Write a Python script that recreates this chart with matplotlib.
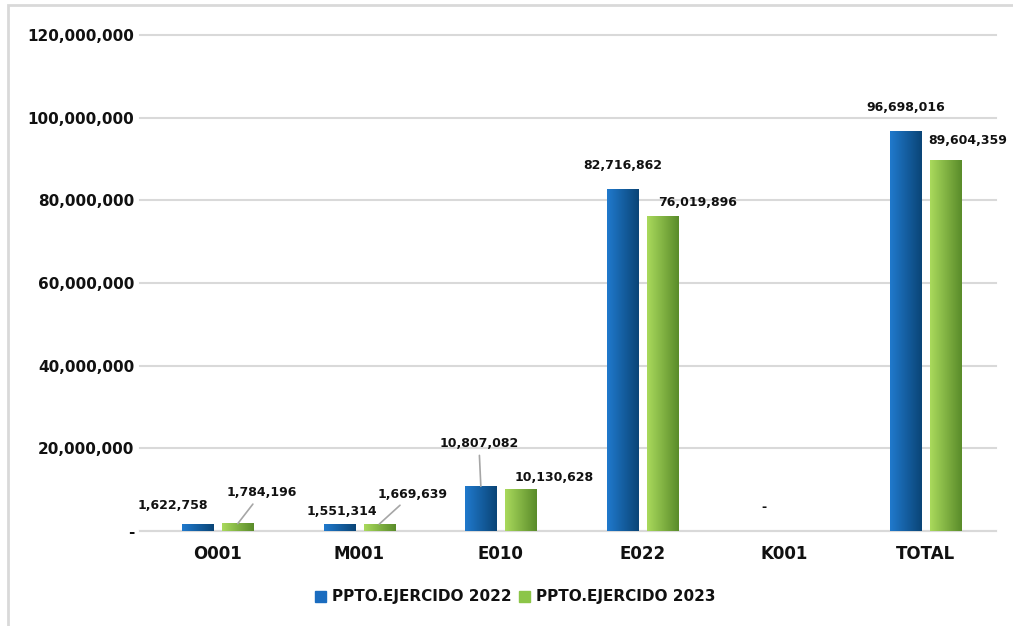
import numpy as np
import matplotlib.pyplot as plt
from matplotlib.colors import LinearSegmentedColormap
from matplotlib.patches import Rectangle

categories = ['O001', 'M001', 'E010', 'E022', 'K001', 'TOTAL']
ejercido_2022 = [1622758, 1551314, 10807082, 82716862, 0, 96698016]
ejercido_2023 = [1784196, 1669639, 10130628, 76019896, 0, 89604359]
series_names = ['PPTO.EJERCIDO 2022', 'PPTO.EJERCIDO 2023']
yticks = [0, 20e6, 40e6, 60e6, 80e6, 100e6, 120e6]

# label offsets in pixels (dx, dy) and whether a leader line is drawn
off_2022 = [(-25, 19, False), (3, 13, False), (-2, 43, True), (0, 24, False), (0, 23, False), (0, 24, False)]
off_2023 = [(24, 31, True), (33, 30, True), (33, 12, False), (35, 14, False), None, (22, 20, False)]

blue_cm = LinearSegmentedColormap.from_list('b', ['#2079cc', '#0a4577'])
green_cm = LinearSegmentedColormap.from_list('g', ['#a9d95c', '#5a8c2a'])

plt.rcParams['font.family'] = ['DejaVu Sans']
plt.rcParams['text.color'] = '#111111'
fig = plt.figure(figsize=(10.13, 6.26), dpi=100)
# outer frame (only top and left edges fall inside the picture)
fig.patches.append(Rectangle((8 / 1013, -0.1), 1.2, 1.1 - 5 / 626, transform=fig.transFigure,
                             fill=False, edgecolor='#d9d9d9', linewidth=2))
ax = fig.add_axes([140 / 1013, 1 - 531 / 626, (996 - 140) / 1013, (531 - 35) / 626])

x = np.arange(len(categories))
w = 0.22
d = 0.141
grad = np.linspace(0, 1, 50).reshape(1, -1)

for vals, dx, cm in [(ejercido_2022, -d, blue_cm), (ejercido_2023, d, green_cm)]:
    for xi, v in zip(x, vals):
        if v > 0:
            ax.imshow(grad, extent=[xi + dx - w / 2, xi + dx + w / 2, 0, v], aspect='auto',
                      cmap=cm, zorder=3)

ax.set_xlim(-0.55, 5.5)
ax.set_ylim(0, 120e6)
ax.set_yticks(yticks)
ax.set_yticklabels(['-'] + [f'{int(t):,}' for t in yticks[1:]], fontsize=11, fontweight='bold')
ax.set_xticks(x)
ax.set_xticklabels(categories, fontsize=12, fontweight='bold')
ax.tick_params(length=0, labelcolor='#111111')
ax.tick_params(axis='y', pad=4)
ax.tick_params(axis='x', pad=10)
ax.grid(axis='y', color='#d9d9d9', linewidth=1.5, zorder=0)
for gl in ax.get_ygridlines():
    gl.set_clip_on(False)
for s in ['top', 'right', 'left']:
    ax.spines[s].set_visible(False)
ax.spines['bottom'].set_color('#d9d9d9')
ax.spines['bottom'].set_linewidth(1.5)

for vals, dx, offs in [(ejercido_2022, -d, off_2022), (ejercido_2023, d, off_2023)]:
    for xi, v, o in zip(x, vals, offs):
        if o is None:
            continue
        txt = f'{v:,}' if v > 0 else '-'
        ap = dict(arrowstyle='-', color='#a6a6a6', lw=1.2, shrinkA=2, shrinkB=0) if o[2] else None
        ax.annotate(txt, (xi + dx, v), xytext=(o[0], o[1]), textcoords='offset pixels',
                    ha='center', va='center', fontsize=9, fontweight='bold',
                    arrowprops=ap, annotation_clip=False, zorder=5)

handles = [Rectangle((0, 0), 1, 1, color='#1a6cbf'), Rectangle((0, 0), 1, 1, color='#8cc548')]
fig.legend(handles, series_names, loc='center', bbox_to_anchor=(515 / 1013, 1 - 597 / 626),
           ncol=2, frameon=False, prop={'size': 11, 'weight': 'bold'},
           handlelength=0.7, handleheight=0.7, handletextpad=0.4, columnspacing=0.5)

fig.savefig('out.png', dpi=100)
